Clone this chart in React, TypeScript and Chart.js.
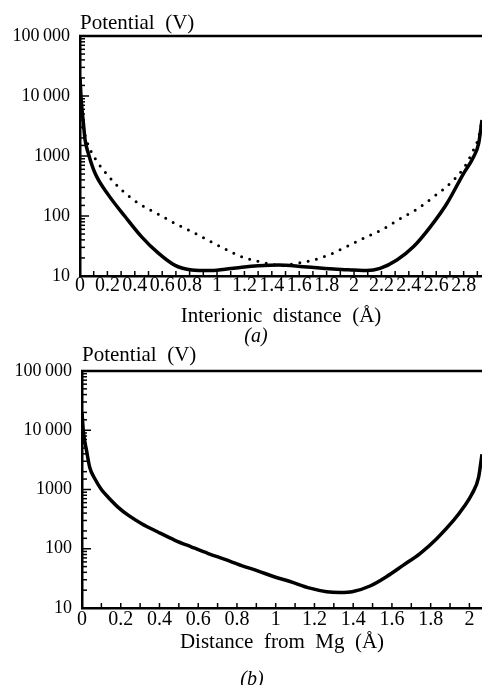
import React, { useEffect, useRef } from "react";
import { Chart, registerables } from "chart.js";

Chart.register(...registerables);

const FONT = '"Liberation Serif", "Times New Roman", Times, serif';
Chart.defaults.font.family = FONT;
Chart.defaults.color = "#000";

// ---------- Panel (a): interionic distance ----------
const aSolidX = [0, 0.01, 0.025, 0.037, 0.061, 0.11, 0.207, 0.329, 0.45, 0.572, 0.694, 0.816, 0.937, 1.059, 1.181, 1.3, 1.45, 1.631, 1.75, 1.875, 2.0, 2.094, 2.19, 2.313, 2.435, 2.557, 2.679, 2.8, 2.873, 2.91, 2.934];
const aSolidV = [20000, 8000, 3500, 1860, 1100, 515, 225, 98, 45, 24, 15, 12.6, 12.3, 13, 14, 14.8, 15.3, 14.3, 13.6, 13, 12.6, 12.3, 13.4, 18.5, 31, 66, 163, 515, 970, 1640, 4000];

const aDotX = [0.02, 0.061, 0.11, 0.195, 0.305, 0.426, 0.56, 0.694, 0.816, 0.95, 1.076, 1.205, 1.327, 1.4, 1.47, 1.55, 1.704, 1.826, 1.955, 2.082, 2.208, 2.332, 2.46, 2.588, 2.715, 2.807, 2.866, 2.91, 2.934];
const aDotV = [3000, 1500, 910, 500, 270, 163, 111, 75, 55, 38, 27, 20, 17, 15.7, 15, 15.8, 18.5, 23, 31.6, 44, 60, 89, 131, 215, 373, 660, 1180, 2080, 4000];

const aXLabels = ["0", "0.2", "0.4", "0.6", "0.8", "1", "1.2", "1.4", "1.6", "1.8", "2", "2.2", "2.4", "2.6", "2.8"];
const aXMax = 2.934;

// ---------- Panel (b): distance from Mg ----------
const bX = [0, 0.007, 0.024, 0.04, 0.067, 0.1, 0.135, 0.187, 0.24, 0.308, 0.394, 0.48, 0.566, 0.652, 0.738, 0.824, 0.91, 0.988, 1.074, 1.177, 1.263, 1.332, 1.4, 1.487, 1.573, 1.659, 1.745, 1.831, 1.918, 1.97, 2.013, 2.047, 2.065];
const bV = [20000, 9600, 4450, 2350, 1500, 1000, 740, 500, 365, 265, 190, 139, 107, 83, 66, 52, 42, 34, 28, 21.6, 18.8, 18.3, 19, 23.5, 34, 53, 83, 148, 300, 500, 840, 1580, 3950];

const bXLabels = ["0", "0.2", "0.4", "0.6", "0.8", "1", "1.2", "1.4", "1.6", "1.8", "2"];
const bXMax = 2.065;

// ---------- shared y axis ----------
const yMajorValues = [10, 100, 1000, 10000, 100000];
const yMajorLabels = ["10", "100", "1000", "10\u2009000", "100\u2009000"];

const decorPlugin = {
  id: "decor",
  afterDraw(chart: any, _args: any, opts: any) {
    const { ctx, chartArea: a, scales } = chart;
    ctx.save();
    ctx.strokeStyle = "#000";
    ctx.lineWidth = 2.5;
    ctx.beginPath();
    ctx.moveTo(a.left - 1, a.top);
    ctx.lineTo(a.right, a.top);
    ctx.stroke();
    ctx.lineWidth = 1.5;
    for (const t of scales.y.ticks) {
      const p = scales.y.getPixelForValue(t.value);
      const l = Math.log10(t.value);
      const major = Math.abs(l - Math.round(l)) < 1e-6;
      const len = major ? 9 : 5;
      ctx.beginPath();
      ctx.moveTo(a.left, p);
      ctx.lineTo(a.left + len, p);
      ctx.stroke();
    }
    for (const t of scales.x.ticks) {
      const p = scales.x.getPixelForValue(t.value);
      ctx.beginPath();
      ctx.moveTo(p, a.bottom);
      ctx.lineTo(p, a.bottom - 5);
      ctx.stroke();
    }
    ctx.fillStyle = "#000";
    ctx.textBaseline = "alphabetic";
    ctx.font = `21px ${FONT}`;
    ctx.textAlign = "left";
    ctx.fillText(opts.yLabel, a.left, opts.yLabelY);
    ctx.font = `italic 20px ${FONT}`;
    ctx.textAlign = "center";
    ctx.fillText(opts.tag, opts.tagX, opts.tagY);
    ctx.restore();
  },
};

type PanelCfg = {
  top: number;
  h: number;
  padTop: number;
  yWidth: number;
  xHeight: number;
  xMax: number;
  xLabels: string[];
  xPad: number;
  title: string;
  titlePadBottom: number;
  tag: string;
  tagX: number;
  tagY: number;
  yLabelY: number;
  datasets: any[];
};

function Panel({ cfg }: { cfg: PanelCfg }) {
  const ref = useRef<HTMLCanvasElement>(null);
  useEffect(() => {
    const chart = new Chart(ref.current as HTMLCanvasElement, {
      type: "line",
      data: { datasets: cfg.datasets },
      plugins: [decorPlugin],
      options: {
        animation: false,
        responsive: false,
        layout: { padding: { top: cfg.padTop, left: 0, right: 0, bottom: 0 } },
        plugins: {
          legend: { display: false },
          tooltip: { enabled: false },
          decor: { yLabel: "Potential  (V)", yLabelY: cfg.yLabelY, tag: cfg.tag, tagX: cfg.tagX, tagY: cfg.tagY },
        } as any,
        elements: { point: { radius: 0 } },
        scales: {
          x: {
            type: "linear",
            min: 0,
            max: cfg.xMax,
            grid: { display: false, drawTicks: false },
            border: { display: true, color: "#000", width: 2.5 },
            ticks: {
              stepSize: 0.1,
              includeBounds: false,
              autoSkip: false,
              maxRotation: 0,
              minRotation: 0,
              maxTicksLimit: 100,
              padding: cfg.xPad,
              font: { size: 20, lineHeight: 1 },
              color: "#000",
              callback: (value: any) => {
                const k = Math.round(Number(value) * 10);
                return k % 2 === 0 ? cfg.xLabels[k / 2] ?? "" : "";
              },
            },
            title: {
              display: true,
              text: cfg.title,
              color: "#000",
              font: { size: 21 },
              padding: { top: 0, bottom: cfg.titlePadBottom },
            },
            afterFit: (scale: any) => {
              scale.height = cfg.xHeight;
            },
          },
          y: {
            type: "logarithmic",
            min: 10,
            max: 100000,
            grid: { display: false, drawTicks: false },
            border: { display: true, color: "#000", width: 2.5 },
            ticks: {
              autoSkip: false,
              padding: 10,
              font: { size: 18 },
              color: "#000",
              callback: (value: any) => {
                const i = yMajorValues.findIndex((v) => Math.abs(v - Number(value)) < 1e-6);
                return i >= 0 ? yMajorLabels[i] : "";
              },
            },
            afterFit: (scale: any) => {
              scale.width = cfg.yWidth;
            },
          },
        },
      } as any,
    });
    return () => chart.destroy();
  }, []);
  return (
    <canvas
      ref={ref}
      width={482}
      height={cfg.h}
      style={{ position: "absolute", left: 0, top: cfg.top, width: 482, height: cfg.h }}
    />
  );
}

const solid = (xs: number[], vs: number[]) => ({
  data: xs.map((x, i) => ({ x, y: vs[i] })),
  borderColor: "#000",
  borderWidth: 3.5,
  cubicInterpolationMode: "monotone",
  fill: false,
  pointRadius: 0,
});

const dotted = (xs: number[], vs: number[]) => ({
  data: xs.map((x, i) => ({ x, y: vs[i] })),
  borderColor: "#000",
  borderWidth: 3,
  borderDash: [0, 8.5],
  borderCapStyle: "round",
  cubicInterpolationMode: "monotone",
  fill: false,
  pointRadius: 0,
});

const panelA: PanelCfg = {
  top: 0,
  h: 355,
  padTop: 36,
  yWidth: 80,
  xHeight: 79,
  xMax: aXMax,
  xLabels: aXLabels,
  xPad: 0,
  title: "Interionic  distance  (\u00C5)",
  titlePadBottom: 26,
  tag: "(a)",
  tagX: 256,
  tagY: 342,
  yLabelY: 29,
  datasets: [solid(aSolidX, aSolidV), dotted(aDotX, aDotV)],
};

const panelB: PanelCfg = {
  top: 340,
  h: 360,
  padTop: 31,
  yWidth: 82,
  xHeight: 92,
  xMax: bXMax,
  xLabels: bXLabels,
  xPad: 2,
  title: "Distance  from  Mg  (\u00C5)",
  titlePadBottom: 45,
  tag: "(b)",
  tagX: 252,
  tagY: 345,
  yLabelY: 21,
  datasets: [solid(bX, bV)],
};

export default function App() {
  return (
    <div
      style={{
        position: "absolute",
        left: 0,
        top: 0,
        width: 482,
        height: 685,
        overflow: "hidden",
        background: "#fff",
      }}
    >
      <Panel cfg={panelA} />
      <Panel cfg={panelB} />
    </div>
  );
}
